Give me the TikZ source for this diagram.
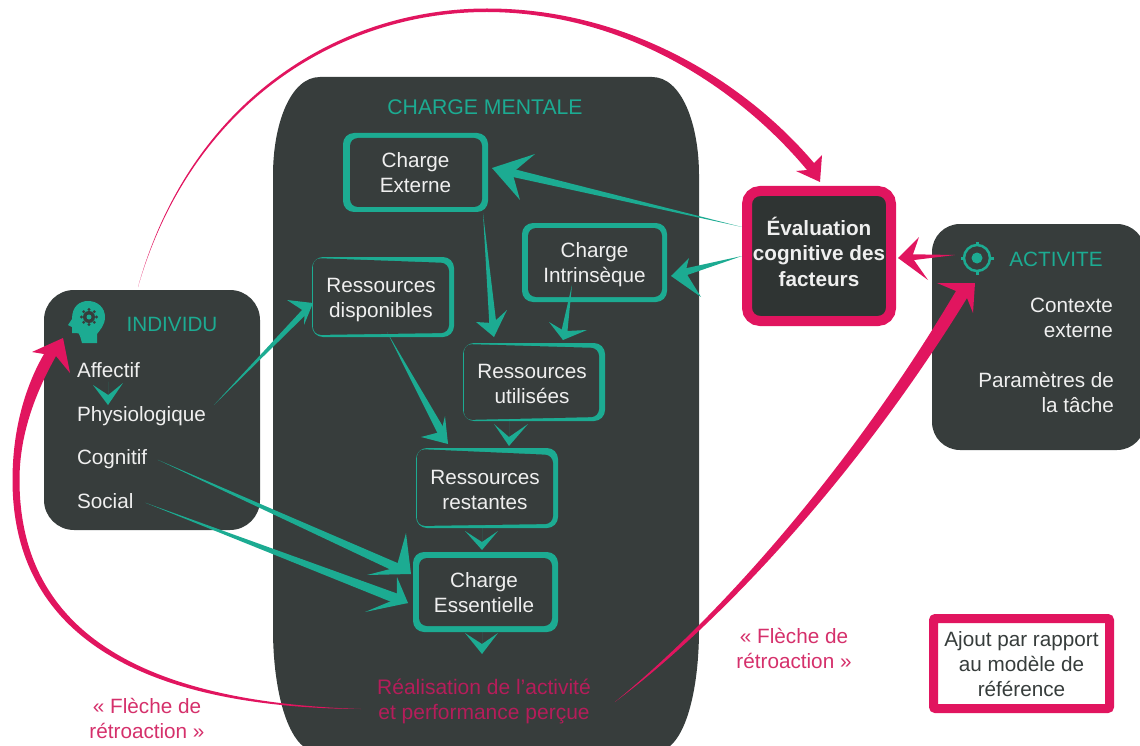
\documentclass[tikz,border=0pt]{standalone}
\usepackage{fontspec}
\setmainfont{Liberation Sans}
\usetikzlibrary{calc}

\definecolor{panelc}{HTML}{373D3C}
\definecolor{evalc}{HTML}{2F3433}
\definecolor{tealc}{HTML}{1CAB92}
\definecolor{pinkc}{HTML}{E1155F}
\definecolor{softpink}{HTML}{D5306B}
\definecolor{darkpink}{HTML}{B51D5A}
\definecolor{paletext}{HTML}{EFEFEF}

\tikzset{
  paneltext/.style={inner sep=0,outer sep=0,align=center,font=\fontsize{20.7}{25}\selectfont},
  boxlabel/.style={paneltext,text=paletext},
  listlabel/.style={paneltext,text=paletext,anchor=base west,text height=15pt,text depth=4.5pt},
  headlabel/.style={paneltext,text=tealc},
  panelbox/.style={fill=panelc,outer sep=0,inner sep=0,rounded corners=#1},
  loadouter/.style={fill=tealc,outer sep=0,inner sep=0,rounded corners=11pt}
}

\newcommand{\loadbox}[8]{
  \pgfmathsetmacro{\boxw}{#5-#3}
  \pgfmathsetmacro{\boxh}{#6-#4}
  \node[loadouter,minimum width=\boxw pt,minimum height=\boxh pt] (#1) at ({(#3+#5)/2},{(#4+#6)/2}) {};
  \fill[panelc,rounded corners=8pt] #7 -- cycle;
  \node[boxlabel] (#1text) at #8 {#2};
}

\newcommand{\taper}[7][tealc]{
  \path #2 coordinate (tapstart);
  \path #3 coordinate (taptip);
  \path ($(taptip)!#5pt!(tapstart)$) coordinate (tapneck);
  \fill[#1] (tapstart) -- ($(tapneck)!#4pt!90:(taptip)$) -- (taptip) -- ($(tapneck)!#4pt!-90:(taptip)$) -- cycle;
  \fill[#1] (tapneck) -- ($(taptip)+(#6)$) -- (taptip) -- ($(taptip)+(#7)$) -- cycle;
}

\begin{document}
\begin{tikzpicture}[x=1pt,y=-1pt]
  \useasboundingbox (0,0) rectangle (1140,746);
  \clip (0,0) rectangle (1140,746);

  \fill[panelc] (320,77) -- (652,77) .. controls (682,77) and (699,125) .. (699,175)
    -- (699,630) .. controls (699,690) and (685,752) .. (655,752)
    -- (318,752) .. controls (288,752) and (273,690) .. (273,630)
    -- (273,175) .. controls (273,125) and (290,77) .. (320,77) -- cycle;
  \node[headlabel,font=\fontsize{21.2}{25}\selectfont] (chargementale) at (485,107) {CHARGE MENTALE};

  \node[panelbox=30pt,minimum width=216pt,minimum height=240pt] (individu) at (152,410) {};
  \node[headlabel] (individulabel) at (172,324) {INDIVIDU};
  \node[listlabel] (affectif) at (77,377) {Affectif};
  \node[listlabel] (physio) at (77,421) {Physiologique};
  \node[listlabel] (cognitif) at (77,464) {Cognitif};
  \node[listlabel] (social) at (77,508) {Social};

  \fill[tealc] (82,343) -- (80,336) .. controls (80,333) and (78,333) .. (75,333)
    -- (72,333) -- (72,327) -- (68,325) -- (72,319)
    .. controls (72,306) and (80,301) .. (88,301)
    .. controls (98,301) and (105,308) .. (105,317)
    .. controls (105,325) and (100,330) .. (97,334) -- (97,343) -- cycle;
  \fill[panelc] (89,317) circle [radius=6];
  \foreach \a in {0,45,...,315}
    \fill[panelc] (89,317) ++(\a:7.5) circle [radius=1.6];
  \fill[tealc] (89,317) circle [radius=2.5];

  \node[panelbox=28pt,minimum width=213pt,minimum height=226pt] (activite) at (1038.5,337) {};
  \node[headlabel] (activitelabel) at (1056,259) {ACTIVITE};
  \node[boxlabel,align=right,anchor=east] (contexte) at (1113,318) {Contexte\\externe};
  \node[boxlabel,align=right,anchor=east] (parametres) at (1114,392) {Paramètres de\\la tâche};

  \draw[tealc,line width=2.5pt] (977,258) circle [radius=13];
  \fill[tealc] (977,258) circle [radius=5.5];
  \foreach \a in {0,90,180,270}
    \draw[tealc,line width=3pt] (977,258) ++(\a:12) -- ++(\a:4.5);

  \loadbox{chargeext}{Charge\\Externe}{343}{133}{488}{212}{(350,138) -- (482,138) -- (482,207) -- (350,207)}{(415.5,172.5)}
  \loadbox{intrinseque}{Charge\\Intrinsèque}{522}{223}{667}{302}{(528,228) -- (662,228) -- (662,297) -- (528,297)}{(594.5,265)}
  \loadbox{disponibles}{Ressources\\disponibles}{312}{257}{454}{337}{(313,258) -- (449,263) -- (449,333) -- (313,335)}{(381,300.5)}
  \loadbox{utilisees}{Ressources\\utilisées}{463}{343}{605}{421}{(464,344) -- (599,348) -- (599,417) -- (464,420)}{(532,384)}
  \loadbox{restantes}{Ressources\\restantes}{416}{448}{558}{528}{(417,449) -- (553,455) -- (553,524) -- (417,526)}{(485,490)}
  \loadbox{essentielle}{Charge\\Essentielle}{413}{552}{558}{632}{(419,558) -- (552,558) -- (552,626) -- (419,626)}{(484,593)}

  \node[paneltext,text=darkpink,font=\fontsize{21}{25}\selectfont,minimum height=52pt] (realisation) at (484,701) {Réalisation de l’activité\\et performance perçue};

  \node[fill=evalc,draw=pinkc,line width=10pt,rounded corners=13pt,minimum width=144pt,minimum height=130pt,inner sep=0] (evaluation) at (819,256) {};
  \node[boxlabel,font=\fontsize{20.7}{25.5}\selectfont\bfseries] (evaluationtext) at ($(evaluation)+(0,-4.5)$) {Évaluation\\cognitive des\\facteurs};

  \node[fill=white,draw=pinkc,line width=9pt,rounded corners=2pt,minimum width=176pt,minimum height=90pt,inner sep=0] (legende) at (1021.5,663.5) {};
  \node[paneltext,text=panelc] (legendetext) at ($(legende)+(0,1)$) {Ajout par rapport\\au modèle de\\référence};

  \node[paneltext,text=softpink] (retroleft) at (147,718) {« Flèche de\\rétroaction »};
  \node[paneltext,text=softpink] (retroright) at (794,648) {« Flèche de\\rétroaction »};

  \taper{($(evaluation.west)+(0,-29)$)}{($(chargeext.east)+(4,-4.5)$)}{4}{21}{43,-14}{28,32}
  \taper{(evaluation.west)}{($(intrinseque.east)+(4,13.5)$)}{3.5}{15}{18,-18}{30,21}
  \taper[pinkc]{($(activite.north west)+(23,31)$)}{($(evaluation.east)+(2,2)$)}{3}{14}{21,-21}{30,22}
  \taper{($(physio.east)+(8,-10.75)$)}{($(disponibles.west)+(1,6)$)}{3}{12}{-26,-3}{-9,22}
  \taper{($(chargeext.south east)+(-5,1)$)}{($(utilisees.north)+(-40,-6)$)}{3.5}{14}{-18,-15}{13,-27}
  \taper{($(intrinseque.south)+(-22.5,-17)$)}{($(utilisees.north)+(29,-3)$)}{3}{9}{-14,-18}{24,-10}
  \taper{($(disponibles.south)+(4,-5)$)}{($(restantes.north)+(-39,-4)$)}{4}{14}{-27,-7}{-3,-28}
  \taper{($(cognitif.east)+(10.5,1)$)}{($(essentielle.west)+(-2,-18)$)}{4.5}{16}{-5,-41}{-44,1}
  \taper{($(social.east)+(12,0)$)}{($(essentielle.west)+(-5,11)$)}{5}{12}{-11,-26}{-43,9}

  \taper{(affectif.south)}{($(physio.west)+(31,-10.75)$)}{0}{10}{-15,-20}{15,-22}
  \taper{($(utilisees.south)+(-25,0)$)}{($(restantes.north)+(22,-2)$)}{0}{9}{-15,-22}{19,-22}
  \taper{($(restantes.south)+(-5,0)$)}{($(essentielle.north)+(-3.5,-2)$)}{0}{8}{-17,-19}{16,-19}
  \taper{($(essentielle.south)+(-3.5,0)$)}{($(realisation.north)+(-2,-21)$)}{0}{10}{-17,-21}{16,-21}

  \coordinate (topstart) at ($(individu.north)+(-14,-3)$);
  \coordinate (toptip) at ($(evaluation.north)+(1,-4)$);
  \fill[pinkc] (topstart) .. controls (190,100) and (339,8.5) .. (487,8.5)
    .. controls (631,8.5) and (748,85) .. (814,163)
    -- (822,155) -- (toptip) -- (796,171) -- (807,170)
    .. controls (742,92) and (629,12.5) .. (487,12)
    .. controls (341,12) and (192,101) .. (topstart) -- cycle;

  \coordinate (leftstart) at ($(realisation.west)+(-16,8)$);
  \coordinate (lefttip) at ($(individu.north west)+(19,48)$);
  \fill[pinkc] (leftstart) .. controls (170,708) and (12.5,652) .. (12.5,480)
    .. controls (12.5,428) and (26,385) .. (44,354)
    -- (32,352) -- (lefttip) -- (70,373) -- (56,356)
    .. controls (37,390) and (19.5,432) .. (19.5,480)
    .. controls (19.5,648) and (170,703) .. (leftstart) -- cycle;

  \coordinate (rightstart) at ($(realisation.east)+(24,1)$);
  \coordinate (righttip) at ($(activite.north west)+(43,59)$);
  \fill[pinkc] (rightstart) .. controls (718,618) and (851,468) .. (956,291)
    -- (937,283) -- (righttip) -- (973,313) -- (967,298)
    .. controls (859,474) and (722,622) .. (rightstart) -- cycle;
\end{tikzpicture}
\end{document}
